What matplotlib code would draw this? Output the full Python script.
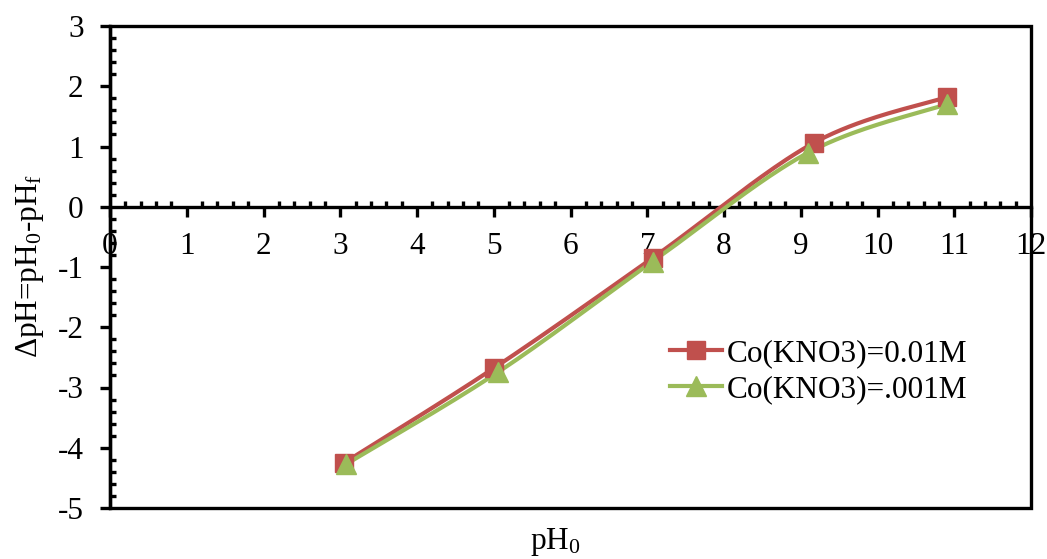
import numpy as np
import matplotlib
matplotlib.use("Agg")
import matplotlib.pyplot as plt
from matplotlib.patches import Rectangle
from matplotlib.ticker import MultipleLocator

# Initial pH versus pH change, two electrolyte concentrations
ph0_a = [3.05, 5.0, 7.07, 9.17, 10.9]
dph_a = [-4.25, -2.68, -0.85, 1.06, 1.82]
ph0_b = [3.08, 5.05, 7.07, 9.1, 10.9]
dph_b = [-4.27, -2.75, -0.91, 0.9, 1.70]
label_a = "Co(KNO3)=0.01M"
label_b = "Co(KNO3)=.001M"
x_ticks = list(range(0, 13))
y_ticks = list(range(-5, 4))

plt.rcParams["font.family"] = ["Liberation Serif", "DejaVu Serif"]
plt.rcParams["mathtext.fontset"] = "custom"
plt.rcParams["mathtext.rm"] = "Liberation Serif"
plt.rcParams["mathtext.it"] = "Liberation Serif:italic"
plt.rcParams["axes.unicode_minus"] = False

FS = 22.5


def smooth(xs, ys, n=40):
    """Bezier smoothing through the points (Catmull-Rom style control points)."""
    p = np.column_stack([xs, ys]).astype(float)
    ext = np.vstack([p[0], p, p[-1]])
    out = []
    t = np.linspace(0, 1, n)[:, None]
    for i in range(1, len(ext) - 2):
        p0, p1, p2, p3 = ext[i - 1], ext[i], ext[i + 1], ext[i + 2]
        c1 = p1 + (p2 - p0) / 6.0
        c2 = p2 - (p3 - p1) / 6.0
        seg = ((1 - t) ** 3) * p1 + 3 * ((1 - t) ** 2) * t * c1 + 3 * (1 - t) * t ** 2 * c2 + t ** 3 * p2
        out.append(seg if i == 1 else seg[1:])
    s = np.vstack(out)
    return s[:, 0], s[:, 1]


red = "#C0504D"
green = "#9BBB59"

fig = plt.figure(figsize=(10.47, 5.59), dpi=100)
ax = fig.add_axes([110 / 1047, 51 / 559, 921 / 1047, 482 / 559])

for xs, ys, col, mk, ms, lab in [
    (ph0_a, dph_a, red, "s", 13, label_a),
    (ph0_b, dph_b, green, "^", 14, label_b),
]:
    sx, sy = smooth(xs, ys)
    ax.plot(sx, sy, color=col, lw=3, solid_capstyle="round", zorder=3)
    ax.plot(xs, ys, linestyle="none", marker=mk, ms=ms, color=col, zorder=4)
    ax.plot([], [], color=col, lw=3, marker=mk, ms=ms, label=lab)

ax.set_xlim(0, 12)
ax.set_ylim(-5, 3)
ax.set_xticks(x_ticks)
ax.set_yticks(y_ticks)
ax.xaxis.set_minor_locator(MultipleLocator(0.2))
ax.yaxis.set_minor_locator(MultipleLocator(0.2))

lw = 2.4
for side in ("top", "right"):
    ax.spines[side].set_visible(False)
ax.spines["left"].set_linewidth(lw)
ax.spines["bottom"].set_linewidth(lw)
ax.spines["bottom"].set_position(("data", 0))
ax.add_patch(Rectangle((0, 0), 1, 1, transform=ax.transAxes, fill=False,
                       lw=lw, edgecolor="black", clip_on=False, zorder=5))

ax.tick_params(axis="x", which="major", direction="out", length=7, width=lw,
               labelsize=FS, pad=11)
ax.tick_params(axis="x", which="minor", direction="in", length=4, width=lw)
ax.tick_params(axis="y", which="major", direction="out", length=7, width=lw,
               labelsize=FS, pad=12)
ax.tick_params(axis="y", which="minor", direction="in", length=4, width=lw)

fig.text(30 / 1047, 1 - 266 / 559, r"$\Delta$pH=pH$_0$-pH$_\mathrm{f}$",
         rotation=90, ha="center", va="center", fontsize=FS)
fig.text(555 / 1047, 1 - 542 / 559, r"pH$_0$", ha="center", va="center", fontsize=FS)

ax.legend(loc="upper left", bbox_to_anchor=(670 / 1047, 1 - 339 / 559),
          bbox_transform=fig.transFigure, frameon=False, fontsize=FS,
          borderpad=0, borderaxespad=0, handlelength=1.65, handletextpad=0.15,
          labelspacing=0.22)

fig.savefig("out.png", dpi=100)
